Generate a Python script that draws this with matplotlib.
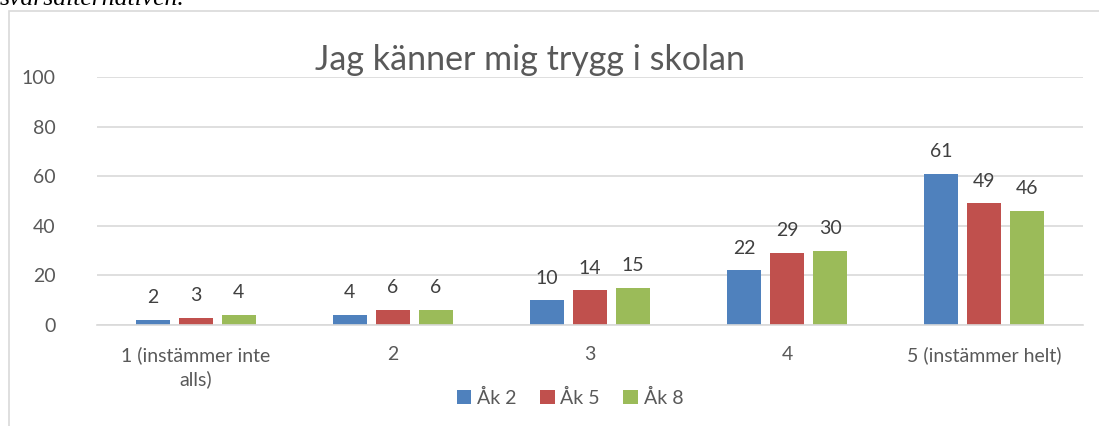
import matplotlib
matplotlib.use("Agg")
import matplotlib.pyplot as plt
from matplotlib.patches import Rectangle
import numpy as np

categories = ["1 (instämmer inte\nalls)", "2", "3", "4", "5 (instämmer helt)"]
series_names = ["Åk 2", "Åk 5", "Åk 8"]
ak2 = [2, 4, 10, 22, 61]
ak5 = [3, 6, 14, 29, 49]
ak8 = [4, 6, 15, 30, 46]
yticks = [0, 20, 40, 60, 80, 100]
colors = ["#4f81bd", "#c0504d", "#9bbb59"]
title = "Jag känner mig trygg i skolan"

W, H = 1099, 426
fig = plt.figure(figsize=(W / 100, H / 100), dpi=100)
fig.patch.set_facecolor("white")
font = "Lato"
txtcol = "#595959"

# chart border (top and left visible)
fig.patches.append(Rectangle((9 / W, -0.1), 1.2, (1 - 11 / H) + 0.1,
                             transform=fig.transFigure, fill=False,
                             edgecolor="#d9d9d9", linewidth=1.2))
# clipped preceding document text
fig.text(0.0, 1 - 5 / H, "svarsalternativen.", family="Liberation Serif",
         style="italic", fontsize=18.5, color="black", va="baseline", ha="left")

ax = fig.add_axes([97 / W, 1 - 325 / H, (1083 - 97) / W, (325 - 77) / H])
x = np.arange(len(categories))
width = 0.173
step = 0.218
for i, (vals, name) in enumerate(zip([ak2, ak5, ak8], series_names)):
    pos = x + (i - 1) * step
    ax.bar(pos, vals, width, color=colors[i], label=name, zorder=3)
    for p, v in zip(pos, vals):
        ax.text(p, v + 5.5, str(v), ha="center", va="bottom", fontsize=14,
                color="#404040", family=font)

ax.set_xlim(-0.5, len(categories) - 0.5)
ax.set_ylim(0, 100)
ax.set_yticks(yticks)
ax.set_yticklabels([str(t) for t in yticks], fontsize=14, color=txtcol, family=font)
ax.set_xticks(x)
ax.set_xticklabels(categories, fontsize=14, color=txtcol, family=font, linespacing=1.45)
ax.tick_params(axis="both", length=0)
ax.tick_params(axis="y", pad=30)
ax.tick_params(axis="x", pad=15)
ax.grid(axis="y", color="#d9d9d9", linewidth=1.2, zorder=0)
for s in ["top", "right", "left"]:
    ax.spines[s].set_visible(False)
ax.spines["bottom"].set_color("#d9d9d9")
ax.spines["bottom"].set_linewidth(1.2)
ax.spines["bottom"].set_zorder(4)

fig.text(530 / W, 1 - 60 / H, title, ha="center", va="center", fontsize=24.5,
         color=txtcol, family=font)

fig.legend(loc="center", bbox_to_anchor=(570 / W, 1 - 398 / H), ncol=3,
           frameon=False, prop={"family": font, "size": 14},
           handlelength=0.75, handleheight=0.75, handletextpad=0.3,
           columnspacing=1.2, labelcolor=txtcol)

fig.savefig("out.png", dpi=100)
